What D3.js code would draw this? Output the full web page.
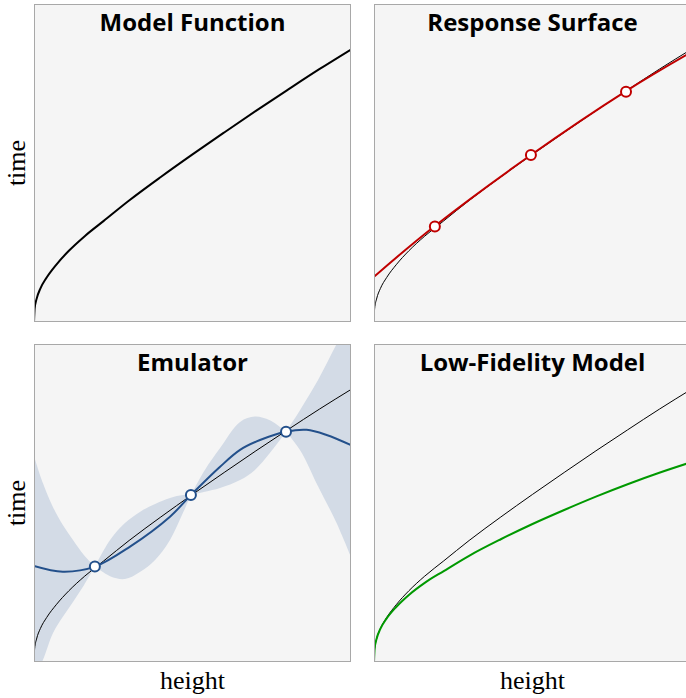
<!DOCTYPE html>
<html>
<head>
<meta charset="utf-8">
<script src="https://cdn.jsdelivr.net/npm/d3@7"></script>
<style>
  body { margin: 0; background: #fff; }
  .title { font-family: "Open Sans", Lato, sans-serif; font-weight: bold; font-size: 24px; }
  .axis-label { font-family: "Liberation Serif", serif; font-size: 26px; }
</style>
</head>
<body>
<div id="chart"></div>
<script>
// --- Data (unit coordinates) ---
const modelX = [0, 0.002, 0.008, 0.02, 0.04, 0.07, 0.11, 0.16, 0.22, 0.30, 0.40, 0.50, 0.60, 0.70, 0.80, 0.90, 1.0];
const modelY = [0, 0.042, 0.072, 0.105, 0.140, 0.180, 0.224, 0.270, 0.318, 0.382, 0.456, 0.527, 0.596, 0.664, 0.730, 0.795, 0.857];

const surfaceX = [0, 0.192, 0.495, 0.795, 1.0];
const surfaceY = [0.142, 0.302, 0.525, 0.726, 0.848];

const sampleX = [0.192, 0.495, 0.795];
const sampleY = [0.300, 0.525, 0.724];

const emuX = [0, 0.091, 0.192, 0.303, 0.429, 0.495, 0.587, 0.650, 0.713, 0.795, 0.860, 0.923, 1.0];
const emuY = [0.302, 0.284, 0.300, 0.363, 0.457, 0.525, 0.614, 0.667, 0.698, 0.724, 0.730, 0.714, 0.682];

const bandX = [0, 0.028, 0.060, 0.091, 0.123, 0.158, 0.192, 0.240, 0.287, 0.334, 0.382, 0.429, 0.470, 0.495,
               0.539, 0.587, 0.650, 0.697, 0.744, 0.795, 0.839, 0.896, 0.953, 1.0];
const bandHigh = [0.648, 0.563, 0.487, 0.431, 0.384, 0.336, 0.300, 0.384, 0.437, 0.472, 0.497, 0.516, 0.525, 0.525,
                  0.604, 0.673, 0.755, 0.772, 0.760, 0.724, 0.792, 0.887, 0.997, 1.082];
const bandLow = [-0.050, 0.006, 0.091, 0.142, 0.189, 0.242, 0.300, 0.270, 0.261, 0.283, 0.321, 0.384, 0.469, 0.525,
                 0.535, 0.547, 0.572, 0.604, 0.657, 0.724, 0.667, 0.553, 0.440, 0.330];

const lowFiX = [0, 0.002, 0.008, 0.02, 0.04, 0.07, 0.11, 0.16, 0.22, 0.30, 0.40, 0.50, 0.60, 0.70, 0.80, 0.90, 1.0];
const lowFiY = [0, 0.042, 0.072, 0.104, 0.137, 0.173, 0.211, 0.249, 0.286, 0.334, 0.386, 0.434, 0.478, 0.520, 0.559, 0.595, 0.628];

const titles = ["Model Function", "Response Surface", "Emulator", "Low-Fidelity Model"];

// --------------------------
// LAYOUT
// --------------------------
const width = 686, height = 698;
const pw = 317, ph = 318;
const panels = [
  { x: 34, y: 4 }, { x: 374, y: 4 },
  { x: 34, y: 344 }, { x: 374, y: 344 }
];

const svg = d3.select("#chart").append("svg")
  .attr("width", width)
  .attr("height", height);

const x = d3.scaleLinear().domain([0, 1]).range([0, pw]);
const y = d3.scaleLinear().domain([0, 1]).range([ph, 0]);

const zip = (xs, ys) => xs.map((v, i) => [v, ys[i]]);
const line = curve => d3.line().x(d => x(d[0])).y(d => y(d[1])).curve(curve);

const gs = panels.map((p, i) => {
  const g = svg.append("g").attr("transform", `translate(${p.x},${p.y})`);
  g.append("clipPath").attr("id", "clip" + i)
    .append("rect").attr("width", pw).attr("height", ph);
  g.append("rect")
    .attr("width", pw).attr("height", ph)
    .attr("fill", "#f5f5f5");
  const inner = g.append("g").attr("clip-path", `url(#clip${i})`);
  g.append("rect")
    .attr("x", 0.5).attr("y", 0.5)
    .attr("width", pw - 1).attr("height", ph - 1)
    .attr("fill", "none").attr("stroke", "#a8a8a8").attr("stroke-width", 1);
  g.append("text").attr("class", "title")
    .attr("x", pw / 2).attr("y", 27)
    .attr("text-anchor", "middle")
    .text(titles[i]);
  return inner;
});

const modelPts = zip(modelX, modelY);

// Panel 1: model function
gs[0].append("path").datum(modelPts)
  .attr("d", line(d3.curveMonotoneX))
  .attr("fill", "none").attr("stroke", "#000").attr("stroke-width", 2);

// Panel 2: response surface
gs[1].append("path").datum(modelPts)
  .attr("d", line(d3.curveMonotoneX))
  .attr("fill", "none").attr("stroke", "#000").attr("stroke-width", 1);
gs[1].append("path").datum(zip(surfaceX, surfaceY))
  .attr("d", line(d3.curveNatural))
  .attr("fill", "none").attr("stroke", "#c00000").attr("stroke-width", 2);

// Panel 3: emulator band, split at sample points so cusps stay sharp
const bandPts = bandX.map((v, i) => ({ x: v, lo: bandLow[i], hi: bandHigh[i] }));
const cuts = [0, ...sampleX, 1];
const area = d3.area()
  .x(d => x(d.x)).y0(d => y(d.lo)).y1(d => y(d.hi))
  .curve(d3.curveCatmullRom);
for (let k = 0; k < cuts.length - 1; k++) {
  const seg = bandPts.filter(d => d.x >= cuts[k] - 1e-6 && d.x <= cuts[k + 1] + 1e-6);
  gs[2].append("path").datum(seg)
    .attr("d", area)
    .attr("fill", "#d3dbe6");
}
gs[2].append("path").datum(modelPts)
  .attr("d", line(d3.curveMonotoneX))
  .attr("fill", "none").attr("stroke", "#000").attr("stroke-width", 1);
gs[2].append("path").datum(zip(emuX, emuY))
  .attr("d", line(d3.curveCatmullRom))
  .attr("fill", "none").attr("stroke", "#23508b").attr("stroke-width", 2);

// Panel 4: low-fidelity model
gs[3].append("path").datum(modelPts)
  .attr("d", line(d3.curveMonotoneX))
  .attr("fill", "none").attr("stroke", "#000").attr("stroke-width", 1);
gs[3].append("path").datum(zip(lowFiX, lowFiY))
  .attr("d", line(d3.curveMonotoneX))
  .attr("fill", "none").attr("stroke", "#009900").attr("stroke-width", 2);

// Sample markers
const samples = zip(sampleX, sampleY);
[[1, "#c00000"], [2, "#23508b"]].forEach(([i, c]) => {
  gs[i].selectAll("circle.sample")
    .data(samples)
    .join("circle")
      .attr("class", "sample")
      .attr("cx", d => x(d[0]))
      .attr("cy", d => y(d[1]))
      .attr("r", 5)
      .attr("fill", "#fff")
      .attr("stroke", c)
      .attr("stroke-width", 2);
});

// Axis labels
[163, 503].forEach(cy => {
  svg.append("text").attr("class", "axis-label")
    .attr("transform", `translate(25,${cy}) rotate(-90)`)
    .attr("text-anchor", "middle")
    .text("time");
});
[192.5, 532.5].forEach(cx => {
  svg.append("text").attr("class", "axis-label")
    .attr("x", cx).attr("y", 689)
    .attr("text-anchor", "middle")
    .text("height");
});
</script>
</body>
</html>
